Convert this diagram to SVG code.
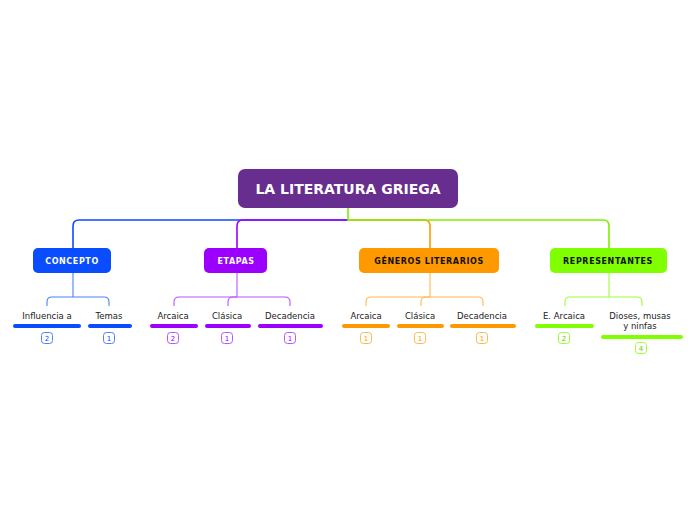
<svg xmlns="http://www.w3.org/2000/svg" width="696" height="520" viewBox="0 0 696 520">
<style>
.t{font-family:"DejaVu Sans",Verdana,sans-serif}
.main{font-size:14px;font-weight:bold;fill:#fff;text-anchor:middle}
.lvl1{font-size:8px;font-weight:bold;text-anchor:middle;letter-spacing:0.6px}
.leaf{font-size:8.5px;fill:#222;text-anchor:middle}
.num{font-size:7px;text-anchor:middle}
.c{fill:none;stroke-width:1.6}
.s{fill:none;stroke-width:1.1}
.bar{stroke-width:4;stroke-linecap:round}
.badge{fill:#fff;stroke-width:1}
</style>
<rect width="696" height="520" fill="#fff"/>
<g id="connectors">
<path class="c" stroke="#0a4cff" d="M348,220 H79 Q73,220 73,226 V248"/>
<path class="c" stroke="#9b00ff" d="M348,220 H243 Q237,220 237,226 V248"/>
<path class="c" stroke="#ff9900" d="M348,220 H424 Q430,220 430,226 V248"/>
<path class="c" stroke="#80ee00" d="M348,208 V220 H603 Q609,220 609,226 V248"/>
<g stroke="#4a80ff" class="s"><path d="M73,273 V297"/><path d="M47,306 V302 Q47,297 52,297 H104 Q109,297 109,302 V306"/></g>
<g stroke="#b855ff" class="s"><path d="M237,273 V297"/><path d="M174,306 V302 Q174,297 179,297 H285 Q290,297 290,302 V306"/><path d="M237,297 H233 Q228,297 228,302 V306"/></g>
<g stroke="#ffb84d" class="s"><path d="M430,273 V297"/><path d="M366,306 V302 Q366,297 371,297 H478 Q483,297 483,302 V306"/><path d="M430,297 H426 Q421,297 421,302 V306"/></g>
<g stroke="#99ff33" class="s"><path d="M609,273 V297"/><path d="M565,306 V302 Q565,297 570,297 H637 Q642,297 642,302 V306"/></g>
</g>
<g id="root"><rect x="238" y="169" width="220" height="39" rx="7" fill="#672d8f"/><text class="t main" x="348" y="194">LA LITERATURA GRIEGA</text></g>
<g id="concepto"><rect x="33" y="248" width="78" height="25" rx="5" fill="#0a4cff"/><text class="t lvl1" x="72" y="264" fill="#fff">CONCEPTO</text></g>
<g id="etapas"><rect x="204" y="248" width="63" height="25" rx="5" fill="#9b00ff"/><text class="t lvl1" x="236" y="264" fill="#fff">ETAPAS</text></g>
<g id="generos"><rect x="359" y="248" width="140" height="25" rx="5" fill="#ff9900"/><text class="t lvl1" x="429" y="264" fill="#111">GÉNEROS LITERARIOS</text></g>
<g id="representantes"><rect x="550" y="248" width="117" height="25" rx="5" fill="#80ff00"/><text class="t lvl1" x="608" y="264" fill="#111">REPRESENTANTES</text></g>

<g id="influencia"><text class="t leaf" x="47" y="319">Influencia a</text><line class="bar" stroke="#0a4cff" x1="15" y1="326" x2="79" y2="326"/><rect class="badge" stroke="#4a80ff" x="41.5" y="332.5" width="11" height="11" rx="3"/><text class="t num" fill="#0a4cff" x="47" y="340.5">2</text></g>
<g id="temas"><text class="t leaf" x="109" y="319">Temas</text><line class="bar" stroke="#0a4cff" x1="90" y1="326" x2="130" y2="326"/><rect class="badge" stroke="#4a80ff" x="103.5" y="332.5" width="11" height="11" rx="3"/><text class="t num" fill="#0a4cff" x="109" y="340.5">1</text></g>

<g id="e-arcaica"><text class="t leaf" x="173" y="319">Arcaica</text><line class="bar" stroke="#9b00ff" x1="152" y1="326" x2="196" y2="326"/><rect class="badge" stroke="#b855ff" x="167.5" y="332.5" width="11" height="11" rx="3"/><text class="t num" fill="#9b00ff" x="173" y="340.5">2</text></g>
<g id="e-clasica"><text class="t leaf" x="227" y="319">Clásica</text><line class="bar" stroke="#9b00ff" x1="207" y1="326" x2="249" y2="326"/><rect class="badge" stroke="#b855ff" x="221.5" y="332.5" width="11" height="11" rx="3"/><text class="t num" fill="#9b00ff" x="227" y="340.5">1</text></g>
<g id="e-decadencia"><text class="t leaf" x="290" y="319">Decadencia</text><line class="bar" stroke="#9b00ff" x1="260" y1="326" x2="321" y2="326"/><rect class="badge" stroke="#b855ff" x="284.5" y="332.5" width="11" height="11" rx="3"/><text class="t num" fill="#9b00ff" x="290" y="340.5">1</text></g>

<g id="g-arcaica"><text class="t leaf" x="366" y="319">Arcaica</text><line class="bar" stroke="#ff9900" x1="344" y1="326" x2="388" y2="326"/><rect class="badge" stroke="#ffb84d" x="360.5" y="332.5" width="11" height="11" rx="3"/><text class="t num" fill="#ff9900" x="366" y="340.5">1</text></g>
<g id="g-clasica"><text class="t leaf" x="420" y="319">Clásica</text><line class="bar" stroke="#ff9900" x1="399" y1="326" x2="442" y2="326"/><rect class="badge" stroke="#ffb84d" x="414.5" y="332.5" width="11" height="11" rx="3"/><text class="t num" fill="#ff9900" x="420" y="340.5">1</text></g>
<g id="g-decadencia"><text class="t leaf" x="482" y="319">Decadencia</text><line class="bar" stroke="#ff9900" x1="452" y1="326" x2="514" y2="326"/><rect class="badge" stroke="#ffb84d" x="476.5" y="332.5" width="11" height="11" rx="3"/><text class="t num" fill="#ff9900" x="482" y="340.5">1</text></g>

<g id="r-arcaica"><text class="t leaf" x="564" y="319">E. Arcaica</text><line class="bar" stroke="#80ff00" x1="537" y1="326" x2="592" y2="326"/><rect class="badge" stroke="#99ff33" x="558.5" y="332.5" width="11" height="11" rx="3"/><text class="t num" fill="#66cc00" x="564" y="340.5">2</text></g>
<g id="r-dioses"><text class="t leaf" x="640" y="319">Dioses, musas</text><text class="t leaf" x="640" y="329">y ninfas</text><line class="bar" stroke="#80ff00" x1="603" y1="337" x2="681" y2="337"/><rect class="badge" stroke="#99ff33" x="635.5" y="342.5" width="11" height="11" rx="3"/><text class="t num" fill="#66cc00" x="641" y="350.5">4</text></g>
</svg>
